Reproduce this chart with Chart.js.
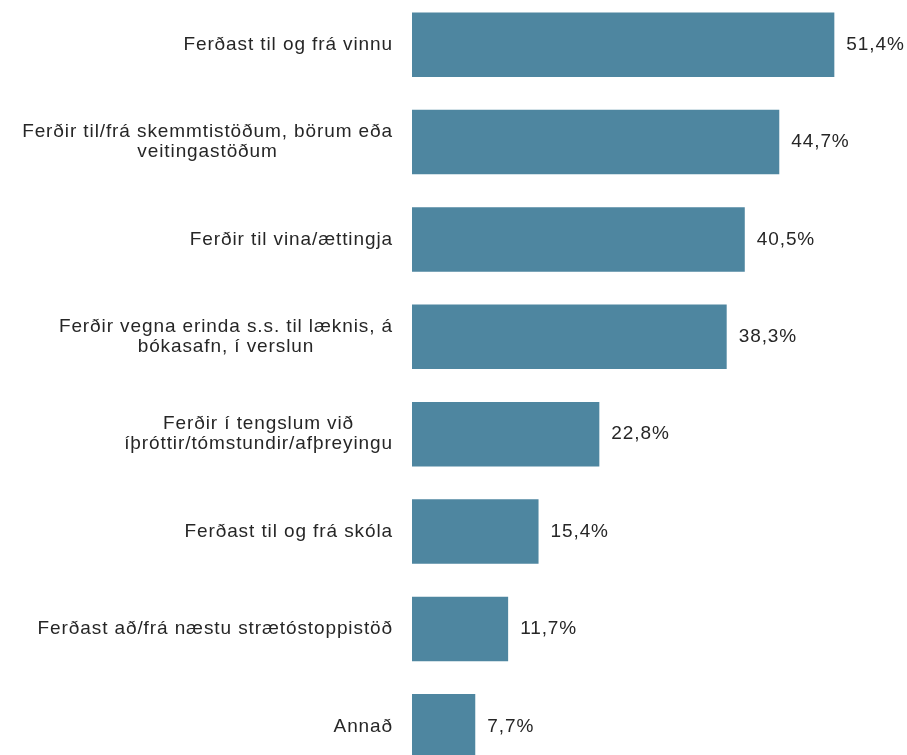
<!DOCTYPE html>
<html>
<head>
<meta charset="utf-8">
<script src="https://cdn.jsdelivr.net/npm/chart.js@4"></script>
<style>
  html, body { margin: 0; padding: 0; background: #fff; overflow: hidden; }
  #wrap { position: absolute; left: 0; top: -4px; width: 907px; height: 779px; }
</style>
</head>
<body>
<div id="wrap"><canvas id="tripChart" width="907" height="779"></canvas></div>
<script>
// categories (multi-line labels as arrays)
const categories = [
    ['Ferðast til og frá vinnu'],
    ['Ferðir til/frá skemmtistöðum, börum eða', 'veitingastöðum'],
    ['Ferðir til vina/ættingja'],
    ['Ferðir vegna erinda s.s. til læknis, á', 'bókasafn, í verslun'],
    ['Ferðir í tengslum við', 'íþróttir/tómstundir/afþreyingu'],
    ['Ferðast til og frá skóla'],
    ['Ferðast að/frá næstu strætóstoppistöð'],
    ['Annað']
];
// share of respondents, %
const shares = [51.4, 44.7, 40.5, 38.3, 22.8, 15.4, 11.7, 7.7];

const barColor = '#4e86a0';
const textColor = '#262626';
const labelFont = '19px "Liberation Sans", Arial, sans-serif';

// draws category labels (block right aligned, lines centered) and value labels
const labelPlugin = {
    id: 'labelPlugin',
    afterDatasetsDraw(chart) {
        const ctx = chart.ctx;
        const yScale = chart.scales.y;
        const meta = chart.getDatasetMeta(0);
        ctx.save();
        ctx.font = labelFont;
        ctx.fillStyle = textColor;
        ctx.letterSpacing = '0.9px';
        ctx.textBaseline = 'middle';
        const rightEdge = yScale.right - 19;
        const lineH = 20;

        categories.forEach((lines, i) => {
            const yc = yScale.getPixelForValue(i);
            const widths = lines.map(l => ctx.measureText(l).width);
            const maxW = Math.max(...widths);
            const cx = rightEdge - maxW / 2;
            ctx.textAlign = 'center';
            lines.forEach((l, j) => {
                const y = yc + (j - (lines.length - 1) / 2) * lineH;
                ctx.fillText(l, cx, y);
            });
        });

        ctx.textAlign = 'left';
        meta.data.forEach((bar, i) => {
            const txt = shares[i].toFixed(1).replace('.', ',') + '%';
            ctx.fillText(txt, bar.x + 12, bar.y);
        });
        ctx.restore();
    }
};

new Chart(document.getElementById('tripChart').getContext('2d'), {
    type: 'bar',
    data: {
        labels: categories,
        datasets: [{
            data: shares,
            backgroundColor: barColor,
            borderWidth: 0,
            categoryPercentage: 1.0,
            barPercentage: 0.662
        }]
    },
    options: {
        indexAxis: 'y',
        responsive: false,
        animation: false,
        layout: { padding: { left: 0, right: 2, top: 0, bottom: 0 } },
        scales: {
            x: {
                display: false,
                min: 0,
                max: 60
            },
            y: {
                display: true,
                grid: { display: false },
                border: { display: false },
                ticks: { display: false },
                afterFit: scale => { scale.width = 412; }
            }
        },
        plugins: {
            legend: { display: false },
            tooltip: { enabled: false }
        }
    },
    plugins: [labelPlugin]
});
</script>
</body>
</html>
